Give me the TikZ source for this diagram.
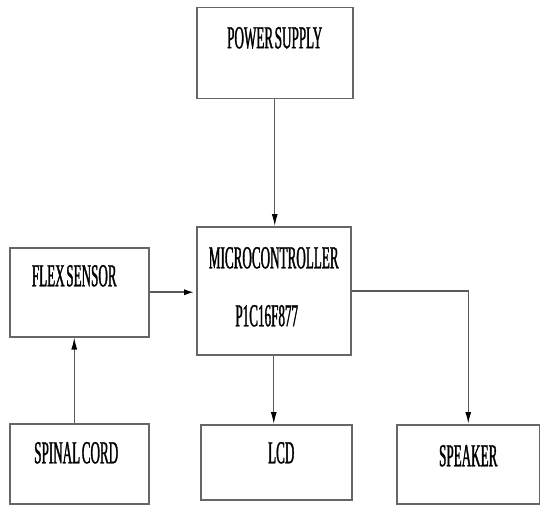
\documentclass[tikz,border=0pt]{standalone}
\usepackage{fontspec}
\usepackage{tikz}
\usetikzlibrary{arrows.meta, positioning, calc}
\newfontfamily\blockfont[FakeStretch=0.41, FakeBold=1, WordSpace=0.5]{Liberation Serif}
\tikzset{
  block/.style={rectangle, draw=black!60, line width=1.5pt, anchor=north west, inner sep=0pt, align=center, font=\blockfont\fontsize{32}{58}\selectfont},
  arrow/.style={-{Latex[length=12pt, width=6pt, color=black]}, draw=black!65, line width=1.1pt},
}

\begin{document}
\begin{tikzpicture}[x=1pt, y=-1pt]
\useasboundingbox (0,0) rectangle (540,505);
% boxes: text height = last baseline below top edge, text depth = the rest
\node[block, minimum width=156pt, text height=40.5pt, text depth=50.5pt] (ps) at (196,7) {POWER SUPPLY};
\node[block, minimum width=154pt, text height=99.5pt, text depth=28.5pt] (mcu) at (196,226) {MICROCONTROLLER\\\hspace*{-14pt}P1C16F877};
\node[block, minimum width=139pt, text height=38.5pt, text depth=50.5pt] (flex) at (9,247) {\hspace*{-10pt}FLEX SENSOR};
\node[block, minimum width=139pt, text height=39.5pt, text depth=40.5pt] (spine) at (9,423) {\hspace*{-6pt}SPINAL CORD};
\node[block, minimum width=151pt, text height=38.5pt, text depth=36.5pt] (lcd) at (200,424) {\hspace*{10pt}LCD};
\node[block, minimum width=143pt, text height=41.5pt, text depth=37.5pt] (spk) at (396,424) {SPEAKER};
% connectors
\draw[arrow] (ps.south) -- (ps.south |- mcu.north);
\draw[arrow, line width=2.4pt] (flex.east) -- (flex.east -| mcu.west);
\draw[arrow] ([xshift=-5pt]spine.north) -- ([xshift=-5pt]flex.south);
\draw[arrow] (mcu.south) -- (mcu.south |- lcd.north);
\draw[arrow, line width=1.5pt] (mcu.east) -| (spk.north);
\end{tikzpicture}
\end{document}
